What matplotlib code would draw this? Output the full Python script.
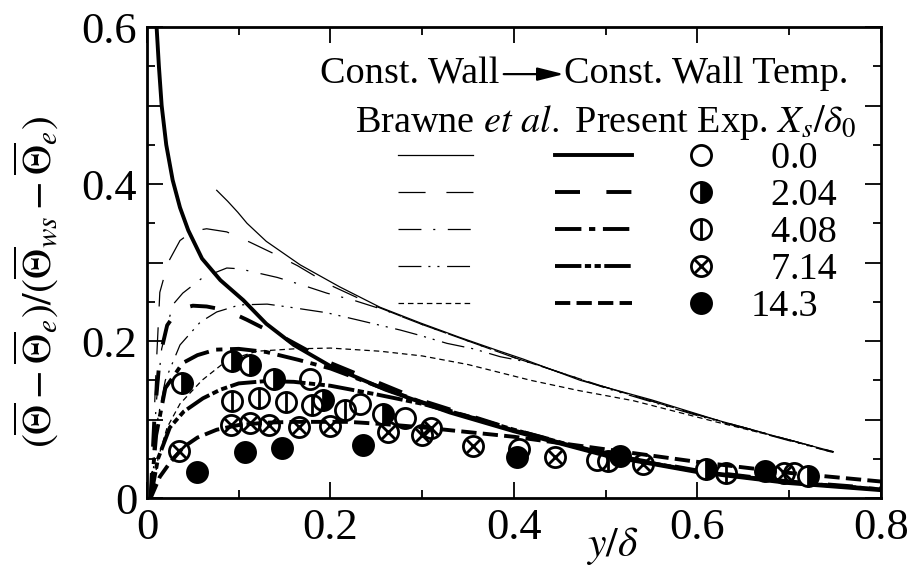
import matplotlib
matplotlib.use("Agg")
import matplotlib.pyplot as plt
from matplotlib.ticker import MultipleLocator, FuncFormatter

plt.rcParams["font.family"] = ["Liberation Serif", "DejaVu Serif"]
plt.rcParams["mathtext.fontset"] = "stix"
plt.rcParams["lines.scale_dashes"] = False

# ---- Brawne et al. (thin lines) ----
b_x00 = [0.076, 0.088, 0.099, 0.109, 0.13, 0.167, 0.21, 0.254, 0.298, 0.34, 0.382, 0.41, 0.472, 0.55, 0.622, 0.687, 0.748]
b_y00 = [0.392, 0.378, 0.364, 0.35, 0.327, 0.297, 0.269, 0.243, 0.223, 0.205, 0.188, 0.177, 0.15, 0.125, 0.099, 0.078, 0.059]

b_x204 = [0.005, 0.009, 0.014, 0.023, 0.036, 0.05, 0.065, 0.087, 0.112, 0.137, 0.164, 0.2, 0.25, 0.3, 0.4, 0.5, 0.6, 0.7, 0.748]
b_y204 = [0.0, 0.14, 0.262, 0.3, 0.328, 0.34, 0.343, 0.339, 0.326, 0.312, 0.296, 0.271, 0.244, 0.221, 0.179, 0.141, 0.106, 0.074, 0.059]

b_x408 = [0.005, 0.01, 0.016, 0.028, 0.039, 0.061, 0.087, 0.101, 0.127, 0.142, 0.17, 0.196, 0.225, 0.26, 0.3, 0.4, 0.5, 0.6, 0.7, 0.748]
b_y408 = [0.0, 0.12, 0.19, 0.246, 0.261, 0.281, 0.293, 0.292, 0.285, 0.281, 0.271, 0.261, 0.252, 0.239, 0.221, 0.179, 0.141, 0.106, 0.074, 0.059]

b_x714 = [0.005, 0.01, 0.02, 0.036, 0.058, 0.076, 0.101, 0.131, 0.156, 0.196, 0.229, 0.247, 0.276, 0.298, 0.327, 0.356, 0.385, 0.42, 0.5, 0.6, 0.7, 0.748]
b_y714 = [0.0, 0.09, 0.15, 0.195, 0.224, 0.237, 0.246, 0.247, 0.243, 0.236, 0.227, 0.222, 0.214, 0.207, 0.197, 0.19, 0.18, 0.172, 0.14, 0.105, 0.073, 0.058]

b_x143 = [0.005, 0.012, 0.022, 0.036, 0.06, 0.087, 0.12, 0.16, 0.2, 0.254, 0.3, 0.35, 0.418, 0.47, 0.53, 0.55, 0.62, 0.69, 0.748]
b_y143 = [0.0, 0.05, 0.09, 0.12, 0.15, 0.175, 0.187, 0.19, 0.191, 0.187, 0.181, 0.17, 0.15, 0.137, 0.124, 0.118, 0.097, 0.077, 0.058]

# ---- Present experiment (thick lines) ----
p_x00 = [0.0105, 0.013, 0.016, 0.021, 0.028, 0.036, 0.045, 0.06, 0.08, 0.105, 0.13, 0.16, 0.2, 0.26, 0.33, 0.4, 0.5, 0.6, 0.7, 0.8]
p_y00 = [0.6, 0.55, 0.5, 0.45, 0.405, 0.37, 0.341, 0.305, 0.2775, 0.252, 0.222, 0.195, 0.168, 0.138, 0.109, 0.085, 0.054, 0.033, 0.019, 0.01]

p_x204 = [0.004, 0.008, 0.014, 0.022, 0.034, 0.05, 0.065, 0.087, 0.109, 0.131, 0.153, 0.2, 0.3, 0.4, 0.5, 0.6, 0.7, 0.8]
p_y204 = [0.0, 0.1, 0.18, 0.22, 0.24, 0.245, 0.244, 0.239, 0.227, 0.214, 0.202, 0.172, 0.124, 0.087, 0.056, 0.035, 0.021, 0.012]

p_x408 = [0.004, 0.01, 0.02, 0.039, 0.055, 0.075, 0.1, 0.13, 0.165, 0.2, 0.25, 0.3, 0.4, 0.5, 0.6, 0.7, 0.8]
p_y408 = [0.0, 0.08, 0.14, 0.172, 0.182, 0.189, 0.19, 0.186, 0.176, 0.165, 0.143, 0.122, 0.086, 0.055, 0.034, 0.02, 0.011]

p_x714 = [0.004, 0.012, 0.025, 0.04, 0.061, 0.08, 0.1, 0.13, 0.16, 0.2, 0.25, 0.3, 0.35, 0.4, 0.5, 0.6, 0.7, 0.8]
p_y714 = [0.0, 0.05, 0.09, 0.11, 0.127, 0.138, 0.146, 0.149, 0.148, 0.143, 0.132, 0.12, 0.104, 0.087, 0.055, 0.034, 0.02, 0.011]

p_x143 = [0.004, 0.014, 0.025, 0.04, 0.055, 0.076, 0.1, 0.13, 0.16, 0.2, 0.22, 0.26, 0.3, 0.35, 0.4, 0.5, 0.6, 0.7, 0.8]
p_y143 = [0.0, 0.027, 0.045, 0.065, 0.077, 0.087, 0.093, 0.096, 0.097, 0.097, 0.097, 0.094, 0.09, 0.084, 0.078, 0.062, 0.046, 0.032, 0.021]

# ---- Measured points ----
m00_x = [0.178, 0.232, 0.281, 0.405, 0.49, 0.705]
m00_y = [0.152, 0.12, 0.102, 0.062, 0.048, 0.032]
m204_x = [0.038, 0.093, 0.112, 0.138, 0.192, 0.257, 0.609, 0.72]
m204_y = [0.146, 0.174, 0.169, 0.152, 0.125, 0.107, 0.037, 0.028]
m408_x = [0.093, 0.122, 0.151, 0.18, 0.216, 0.502, 0.631]
m408_y = [0.124, 0.127, 0.122, 0.118, 0.112, 0.047, 0.032]
m714_x = [0.035, 0.092, 0.112, 0.133, 0.166, 0.2, 0.263, 0.3, 0.31, 0.355, 0.445, 0.541, 0.694]
m714_y = [0.060, 0.093, 0.095, 0.093, 0.091, 0.092, 0.084, 0.080, 0.089, 0.066, 0.052, 0.043, 0.032]
m143_x = [0.054, 0.107, 0.147, 0.235, 0.403, 0.516, 0.674]
m143_y = [0.033, 0.059, 0.064, 0.067, 0.052, 0.054, 0.034]

case_labels = ["0.0", "2.04", "4.08", "7.14", "14.3"]

# line styles
THIN = 0.9
THICK = 2.8
thin_styles = ["-", (0, (19.5, 15)), (0, (16.5, 8.5, 1.5, 9)),
               (0, (16.5, 5, 1.5, 5, 1.5, 5.5)), (0, (4, 2.8))]
thick_styles = ["-", (0, (18, 19)), (0, (19, 5.5, 4.5, 5.5)),
                (0, (19, 2.5, 4.5, 2.5, 4.5, 2.5)), (0, (11, 4.5))]

MS = 14.5
MEW = 2.0


def draw_marker(ax, x, y, kind, **kw):
    base = dict(linestyle="none", markersize=MS, markeredgewidth=MEW,
                markeredgecolor="k", color="k")
    base.update(kw)
    if kind == 0:
        ax.plot(x, y, "o", markerfacecolor="none", **base)
    elif kind == 1:
        ax.plot(x, y, "o", fillstyle="right", markerfacecolor="k",
                markerfacecoloralt="white", **base)
    elif kind == 2:
        ax.plot(x, y, "o", markerfacecolor="none", **base)
        ax.plot(x, y, "|", **base)
    elif kind == 3:
        ax.plot(x, y, "o", markerfacecolor="none", **base)
        b2 = dict(base)
        b2["markersize"] = MS * 0.68
        ax.plot(x, y, "x", **b2)
    else:
        ax.plot(x, y, "o", markerfacecolor="k", **base)


fig = plt.figure(figsize=(9.14, 5.75), dpi=100)
ax = fig.add_axes([0.1608, 0.1339, 0.8031, 0.8191])

brawne = [(b_x00, b_y00), (b_x204, b_y204), (b_x408, b_y408), (b_x714, b_y714), (b_x143, b_y143)]
present = [(p_x00, p_y00), (p_x204, p_y204), (p_x408, p_y408), (p_x714, p_y714), (p_x143, p_y143)]
points = [(m00_x, m00_y), (m204_x, m204_y), (m408_x, m408_y), (m714_x, m714_y), (m143_x, m143_y)]

for (bx, by), ls in zip(brawne, thin_styles):
    ax.plot(bx, by, color="k", lw=THIN, linestyle=ls, dash_capstyle="butt")
for (px, py), ls in zip(present, thick_styles):
    ax.plot(px, py, color="k", lw=THICK, linestyle=ls, dash_capstyle="butt")
for k, (mx, my) in enumerate(points):
    draw_marker(ax, mx, my, k)

ax.set_xlim(0, 0.8)
ax.set_ylim(0, 0.6)

ax.xaxis.set_major_locator(MultipleLocator(0.2))
ax.xaxis.set_minor_locator(MultipleLocator(0.1))
ax.yaxis.set_major_locator(MultipleLocator(0.1))
ax.yaxis.set_minor_locator(MultipleLocator(0.05))


def fmt_x(v, pos):
    return "0" if abs(v) < 1e-9 else f"{v:.1f}"


def fmt_y(v, pos):
    if abs(v) < 1e-9:
        return "0"
    if abs(round(v / 0.2) * 0.2 - v) < 1e-6:
        return f"{v:.1f}"
    return ""


ax.xaxis.set_major_formatter(FuncFormatter(fmt_x))
ax.yaxis.set_major_formatter(FuncFormatter(fmt_y))
ax.tick_params(which="both", direction="in", top=True, right=True,
               width=1.3, colors="k", labelsize=32)
ax.tick_params(which="major", length=11.5)
ax.tick_params(which="minor", length=5.8)
ax.tick_params(axis="x", which="major", pad=7)
ax.tick_params(axis="y", which="major", pad=7)
for s in ax.spines.values():
    s.set_linewidth(2.0)

# axis titles
fig.text(36 / 914, 1 - 282 / 575,
         r"$(\overline{\Theta}-\overline{\Theta}_e)/(\overline{\Theta}_{ws}-\overline{\Theta}_e)$",
         rotation=90, ha="center", va="center", fontsize=30)
fig.text(612 / 914, 1 - 546 / 575, r"$y/\delta$", ha="center", va="center", fontsize=30)

# key
LFS = 27.5
T = ax.transAxes
ax.text(0.4796, 0.881, "Const. Wall", transform=T, ha="right", va="baseline", fontsize=LFS)
ax.annotate("", xy=(0.568, 0.900), xytext=(0.486, 0.900), xycoords="axes fraction",
            arrowprops=dict(arrowstyle="-|>,head_length=0.8,head_width=0.2",
                            color="k", lw=1.6, mutation_scale=20, shrinkA=0, shrinkB=0))
ax.text(0.568, 0.881, "Const. Wall Temp.", transform=T, ha="left", va="baseline", fontsize=LFS)
ax.text(0.283, 0.777, r"Brawne $\it{et\ al.}$ Present Exp. $X_s/\delta_0$",
        transform=T, ha="left", va="baseline", fontsize=LFS)

row_y = [0.728, 0.650, 0.571, 0.493, 0.414]
for k, lab in enumerate(case_labels):
    yy = row_y[k]
    ax.plot([0.342, 0.444], [yy, yy], transform=T, color="k", lw=THIN,
            linestyle=thin_styles[k], dash_capstyle="butt", clip_on=False)
    ax.plot([0.556, 0.661], [yy, yy], transform=T, color="k", lw=THICK,
            linestyle=thick_styles[k], dash_capstyle="butt", clip_on=False)
    draw_marker(ax, [0.755], [yy], k, transform=T, clip_on=False)
    ip, fp = lab.split(".")
    ax.text(0.875, yy - 0.027, ip, transform=T, ha="right", va="baseline", fontsize=LFS)
    ax.text(0.875, yy - 0.027, "." + fp, transform=T, ha="left", va="baseline", fontsize=LFS)

fig.savefig("out.png", dpi=100)
